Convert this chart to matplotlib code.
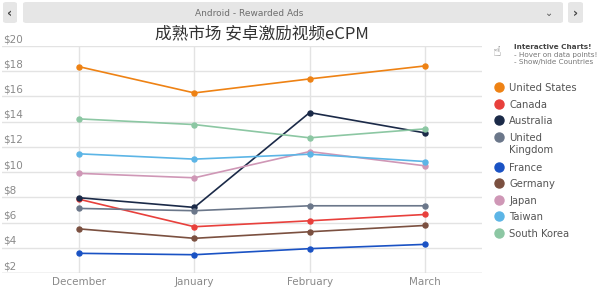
import matplotlib
matplotlib.use('Agg')
import matplotlib.pyplot as plt
from matplotlib.patches import FancyBboxPatch
import matplotlib.transforms as mtransforms

plt.rcParams['font.family'] = ['Noto Sans CJK SC', 'DejaVu Sans']

months = ['December', 'January', 'February', 'March']
countries = ['United States', 'Canada', 'Australia', 'United\nKingdom', 'France',
             'Germany', 'Japan', 'Taiwan', 'South Korea']
colors = ['#ee8214', '#e8403c', '#1b2a48', '#6b778a', '#1a52c4',
          '#7b5040', '#cf97b6', '#5cb5e6', '#8cc7a3']

united_states = [18.36, 16.28, 17.39, 18.42]
canada = [7.85, 5.67, 6.14, 6.64]
australia = [7.97, 7.20, 14.72, 13.11]
united_kingdom = [7.12, 6.94, 7.33, 7.33]
france = [3.56, 3.45, 3.93, 4.27]
germany = [5.50, 4.75, 5.27, 5.77]
japan = [9.90, 9.55, 11.63, 10.50]
taiwan = [11.45, 11.03, 11.42, 10.84]
south_korea = [14.22, 13.77, 12.72, 13.43]

series = [united_states, canada, australia, united_kingdom, france,
          germany, japan, taiwan, south_korea]

yticks = [2, 4, 6, 8, 10, 12, 14, 16, 18, 20]

W, H = 600, 289
fig = plt.figure(figsize=(W / 100, H / 100), dpi=100)
fig.patch.set_facecolor('white')

# plot area in pixels
x0, x1, ytop, ybot = 2, 482, 46, 273
ax = fig.add_axes([x0 / W, 1 - ybot / H, (x1 - x0) / W, (ybot - ytop) / H])
ax.set_facecolor('white')

xs = list(range(len(months)))
for vals, c in zip(series, colors):
    ax.plot(xs, vals, color=c, lw=1.2, marker='o', ms=3.6, mec=c, mfc=c, zorder=3)

# category spacing ~115.3 px, December at x=79
sp = 115.3
ax.set_xlim(-(79 - x0) / sp, 3 + (x1 - 425) / sp)
ax.set_ylim(2, 20)

tr = mtransforms.blended_transform_factory(ax.transAxes, ax.transData)
for y in yticks:
    ax.axhline(y, color='#e3e3e3', lw=1, zorder=1)
    ax.text(0.002, y + 0.15, '$%d' % y, transform=tr, ha='left', va='bottom',
            fontsize=7.5, color='#8a8a8a', family='DejaVu Sans')
for x in xs:
    ax.axvline(x, color='#e3e3e3', lw=1, zorder=1)
ax.axhline(2, color='#d6d6d6', lw=1, zorder=2)

ax.set_xticks(xs)
ax.set_xticklabels(months, fontsize=7.5, color='#8a8a8a', family='DejaVu Sans')
ax.tick_params(axis='x', length=0, pad=3)
ax.set_yticks([])
for s in ax.spines.values():
    s.set_visible(False)

# top controls
def px_box(x, y, w, h):
    p = FancyBboxPatch((x / W, 1 - (y + h) / H), w / W, h / H,
                       boxstyle='round,pad=0,rounding_size=0.006',
                       transform=fig.transFigure, fc='#e6e6e6', ec='none')
    fig.patches.append(p)

px_box(3, 2, 14, 21)
px_box(23, 2, 540, 21)
px_box(568, 2, 15, 21)
fig.text(10 / W, 1 - 13 / H, '‹', ha='center', va='center', fontsize=9,
         color='#444444', family='DejaVu Sans', weight='bold')
fig.text(575.5 / W, 1 - 13 / H, '›', ha='center', va='center', fontsize=9,
         color='#444444', family='DejaVu Sans', weight='bold')
fig.text(549 / W, 1 - 13 / H, '⌄', ha='center', va='center', fontsize=7,
         color='#555555', family='DejaVu Sans')
fig.text(249 / W, 1 - 13 / H, 'Android - Rewarded Ads', ha='center', va='center',
         fontsize=6.5, color='#6e6e6e', family='DejaVu Sans')

fig.text(262 / W, 1 - 34 / H, '成熟市场 安卓激励视频eCPM', ha='center', va='center',
         fontsize=12, color='#333333')

# info box
fig.text(497 / W, 1 - 52 / H, '☝', ha='center', va='center', fontsize=10,
         color='#777777', family='DejaVu Sans')
fig.text(514 / W, 1 - 47 / H, 'Interactive Charts!', ha='left', va='center',
         fontsize=5.2, color='#444444', weight='bold', family='DejaVu Sans')
fig.text(514 / W, 1 - 54.5 / H, '- Hover on data points!', ha='left', va='center',
         fontsize=5.2, color='#777777', family='DejaVu Sans')
fig.text(514 / W, 1 - 62 / H, '- Show/hide Countries', ha='left', va='center',
         fontsize=5.2, color='#777777', family='DejaVu Sans')

# legend
leg_y = [87, 104, 120, 137, 167, 183, 200, 216, 233]
for name, c, ly in zip(countries, colors, leg_y):
    fig.lines.append(plt.Line2D([499 / W], [1 - ly / H], marker='o', ms=6.5,
                                color=c, transform=fig.transFigure))
    if '\n' in name:
        a, b = name.split('\n')
        fig.text(509 / W, 1 - (ly + 1) / H, a, ha='left', va='center',
                 fontsize=7.2, color='#555555', family='DejaVu Sans')
        fig.text(509 / W, 1 - (ly + 13) / H, b, ha='left', va='center',
                 fontsize=7.2, color='#555555', family='DejaVu Sans')
    else:
        fig.text(509 / W, 1 - (ly + 1) / H, name, ha='left', va='center',
                 fontsize=7.2, color='#555555', family='DejaVu Sans')

fig.savefig('out.png', dpi=100)
